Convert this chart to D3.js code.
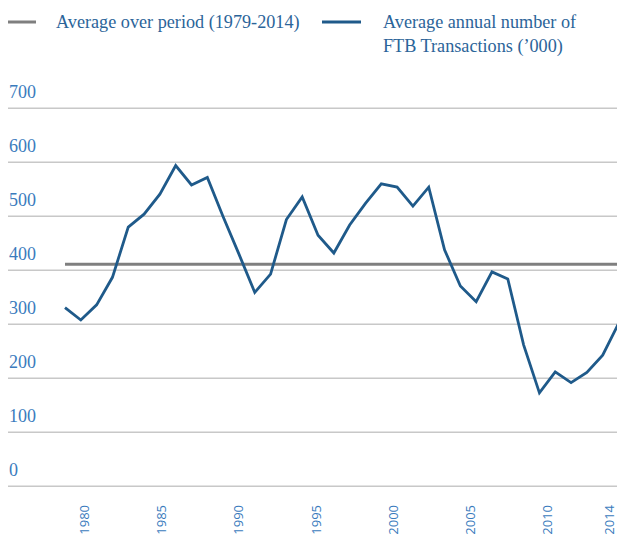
<!DOCTYPE html>
<html>
<head>
<meta charset="utf-8">
<script src="https://cdn.jsdelivr.net/npm/d3@7"></script>
<style>
  html, body { margin: 0; padding: 0; background: #ffffff; }
  svg { display: block; }
</style>
</head>
<body>
<svg id="chart" width="617" height="536"></svg>
<script>
// ---- data ----
const years = d3.range(1979, 2015);
const ftbTransactions = [
  331, 308, 336, 387, 480, 504, 541, 594, 558, 572,
  499, 430, 359, 393, 494, 536, 465, 432, 484, 524,
  560, 554, 519, 554, 438, 371, 342, 397, 384, 262,
  173, 212, 192, 211, 243, 301
];
const averageValue = 411;
const yTicks = [0, 100, 200, 300, 400, 500, 600, 700];
const xTickYears = [1980, 1985, 1990, 1995, 2000, 2005, 2010, 2014];
const legendLabels = ["Average over period (1979-2014)", "Average annual number of", "FTB Transactions (\u2019000)"];

// ---- layout ----
const svg = d3.select("#chart");
const serif = "'Liberation Serif', 'DejaVu Serif', serif";
const textBlue = "#2b6499";
const lineBlue = "#1f5a8a";
const avgGrey = "#7f7f7f";
const gridGrey = "#c8c8c8";

const x = d3.scaleLinear().domain([1979, 2014]).range([65, 618.5]);
const xLabel = d3.scaleLinear().domain([1980, 2014]).range([84, 609]);
const y = d3.scaleLinear().domain([0, 700]).range([486.3, 108.3]);

// gridlines
svg.append("g").selectAll("line").data(yTicks).join("line")
  .attr("x1", 8).attr("x2", 617)
  .attr("y1", d => y(d)).attr("y2", d => y(d))
  .attr("stroke", gridGrey).attr("stroke-width", 1.5);

// y labels (sit above their gridlines)
svg.append("g").selectAll("text").data(yTicks).join("text")
  .attr("x", 9).attr("y", d => y(d) - 10)
  .attr("font-family", serif).attr("font-size", 18)
  .attr("fill", "#3a7bbd")
  .text(d => d);

// average line
svg.append("line")
  .attr("x1", x(1979)).attr("x2", 617)
  .attr("y1", y(averageValue)).attr("y2", y(averageValue))
  .attr("stroke", avgGrey).attr("stroke-width", 3);

// data line
const line = d3.line().x((d, i) => x(years[i])).y(d => y(d));
svg.append("path").datum(ftbTransactions)
  .attr("d", line)
  .attr("fill", "none").attr("stroke", lineBlue)
  .attr("stroke-width", 2.8).attr("stroke-linejoin", "miter");

// x axis labels (rotated)
const xAxis = d3.axisBottom(xLabel).tickValues(xTickYears).tickFormat(d3.format("d")).tickSize(0);
const gx = svg.append("g").call(xAxis);
gx.select(".domain").remove();
gx.selectAll(".tick text")
  .attr("transform", "rotate(-90)")
  .attr("x", -505).attr("y", 0).attr("dy", "0.35em")
  .attr("text-anchor", "end")
  .attr("font-family", "'Open Sans', 'Noto Sans', sans-serif")
  .attr("font-size", 13)
  .attr("fill", "#3a7bbd");

// legend
const lg = svg.append("g");
lg.append("line").attr("x1", 8).attr("x2", 36).attr("y1", 22).attr("y2", 22)
  .attr("stroke", avgGrey).attr("stroke-width", 3);
lg.append("text").attr("x", 56).attr("y", 28)
  .attr("font-family", serif).attr("font-size", 18.2).attr("fill", textBlue)
  .text(legendLabels[0]);
lg.append("line").attr("x1", 322).attr("x2", 361).attr("y1", 22).attr("y2", 22)
  .attr("stroke", lineBlue).attr("stroke-width", 3);
lg.append("text").attr("x", 383).attr("y", 28)
  .attr("font-family", serif).attr("font-size", 18.2).attr("fill", textBlue)
  .text(legendLabels[1]);
lg.append("text").attr("x", 383).attr("y", 52)
  .attr("font-family", serif).attr("font-size", 18.2).attr("fill", textBlue)
  .text(legendLabels[2]);
</script>
</body>
</html>
